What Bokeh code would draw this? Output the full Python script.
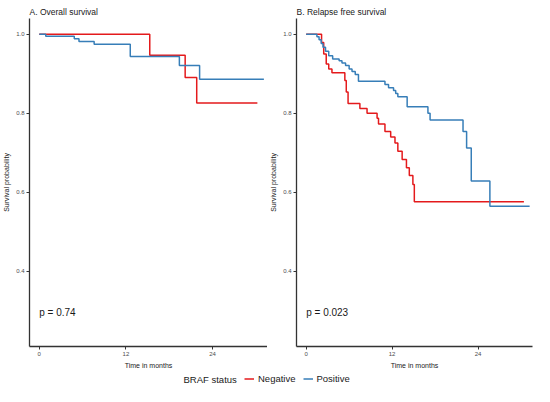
from bokeh.plotting import figure
from bokeh.models import Range1d, FixedTicker, Label, Legend, LegendItem
from bokeh.layouts import column, row
from bokeh.embed import file_html
from bokeh.resources import INLINE

# ---------------- data ----------------
groups = ["Negative", "Positive"]
legend_title = "BRAF status"
colors = ["#E41A1C", "#377EB8"]

x_ticks = [0, 12, 24]
y_ticks = [0.4, 0.6, 0.8, 1.0]
y_tick_labels = ["0.4", "0.6", "0.8", "1.0"]

# A. Overall survival
os_neg_time = [0, 15.3, 20.2, 21.8, 30.2]
os_neg_surv = [1.0, 0.947, 0.891, 0.826, 0.826]
os_pos_time = [0, 0.9, 4.85, 5.5, 7.6, 12.6, 19.4, 22.2, 31.1]
os_pos_surv = [1.0, 0.995, 0.989, 0.9815, 0.975, 0.944, 0.921, 0.886, 0.886]
os_p = "p = 0.74"

# B. Relapse free survival
rfs_neg_time = [0, 2.15, 2.45, 2.8, 3.15, 3.6, 5.4, 5.6, 5.85, 7.5, 8.5, 9.9,
                10.1, 11.0, 11.8, 12.4, 12.8, 13.4, 14.0, 14.4, 14.9, 15.1, 30.4]
rfs_neg_surv = [1.0, 0.979, 0.95, 0.925, 0.9125, 0.9025, 0.883, 0.854, 0.825,
                0.8125, 0.80, 0.7875, 0.773, 0.754, 0.74, 0.725, 0.704, 0.683,
                0.6625, 0.643, 0.62, 0.5765, 0.5765]
rfs_pos_time = [0, 1.5, 1.8, 2.1, 2.35, 2.7, 3.15, 3.7, 4.6, 5.0, 5.5, 6.0, 6.4,
                6.85, 7.3, 11.0, 11.5, 12.2, 12.5, 12.8, 14.1, 17.0, 17.3, 21.9,
                22.4, 23.05, 25.65, 31.2]
rfs_pos_surv = [1.0, 0.994, 0.986, 0.977, 0.967, 0.957, 0.946, 0.9375, 0.933,
                0.9275, 0.921, 0.9125, 0.906, 0.898, 0.881, 0.873, 0.865, 0.858,
                0.85, 0.842, 0.8165, 0.80, 0.783, 0.754, 0.7125, 0.629, 0.565,
                0.565]
rfs_p = "p = 0.023"

FONT = "Liberation Sans"


def make_panel(title, neg_t, neg_s, pos_t, pos_s, ptext, mbl, mbr):
    p = figure(width=267, height=371,
               x_range=Range1d(-1.35, 31.6), y_range=Range1d(0.21, 1.04),
               output_backend="svg", toolbar_location=None,
               min_border_left=mbl, min_border_right=mbr,
               min_border_top=18, min_border_bottom=25)
    p.title.text = title
    p.title.text_font = FONT
    p.title.text_font_size = "8.5px"
    p.title.text_font_style = "normal"
    p.title.text_color = "#1a1a1a"
    p.title.align = "left"
    p.title.standoff = 4
    p.xgrid.visible = False
    p.ygrid.visible = False
    p.outline_line_color = None
    p.background_fill_color = "white"

    p.xaxis.ticker = FixedTicker(ticks=x_ticks)
    p.yaxis.ticker = FixedTicker(ticks=y_ticks)
    p.yaxis.major_label_overrides = dict(zip(y_ticks, y_tick_labels))
    p.xaxis.axis_label = "Time in months"
    p.yaxis.axis_label = "Survival probability"
    for ax in (p.xaxis, p.yaxis):
        ax.axis_line_color = "#333333"
        ax.axis_line_width = 1.3
        ax.major_tick_line_color = "#333333"
        ax.major_tick_out = 3
        ax.major_tick_in = 0
        ax.minor_tick_out = 0
        ax.minor_tick_in = 0
        ax.major_label_text_font = FONT
        ax.major_label_text_font_size = "6px"
        ax.major_label_text_color = "#4d4d4d"
        ax.major_label_standoff = 2
        ax.axis_label_text_font = FONT
        ax.axis_label_text_font_size = "7px"
        ax.axis_label_text_font_style = "normal"
        ax.axis_label_text_color = "#1a1a1a"
        ax.axis_label_standoff = 3

    p.step(neg_t, neg_s, mode="after", line_color=colors[0], line_width=1.5)
    p.step(pos_t, pos_s, mode="after", line_color=colors[1], line_width=1.5)

    p.add_layout(Label(x=0, y=0.295, text=ptext, text_font=FONT,
                       text_font_size="10px", text_baseline="middle",
                       text_color="#1a1a1a"))
    return p


p1 = make_panel("A. Overall survival", os_neg_time, os_neg_surv,
                os_pos_time, os_pos_surv, os_p, 28, 0)
p2 = make_panel("B. Relapse free survival", rfs_neg_time, rfs_neg_surv,
                rfs_pos_time, rfs_pos_surv, rfs_p, 27, 2)

# ---------------- legend strip ----------------
# the strip's ranges lie outside the data, so its renderers only feed the legend
pl = figure(width=534, height=15, output_backend="svg", toolbar_location=None,
            x_range=Range1d(100, 101), y_range=Range1d(100, 101), min_border=0)
pl.axis.visible = False
pl.xgrid.visible = False
pl.ygrid.visible = False
pl.outline_line_color = None
r_neg = pl.step(os_neg_time, os_neg_surv, mode="after",
                line_color=colors[0], line_width=1.5)
r_pos = pl.step(os_pos_time, os_pos_surv, mode="after",
                line_color=colors[1], line_width=1.5)
legend = Legend(items=[LegendItem(label=groups[0], renderers=[r_neg]),
                       LegendItem(label=groups[1], renderers=[r_pos])],
                orientation="horizontal", location=(244, 2),
                label_text_font=FONT, label_text_font_size="9.5px",
                label_text_color="#1a1a1a",
                glyph_width=10, glyph_height=11, label_height=11,
                label_width=10, label_standoff=4, spacing=7, padding=0,
                margin=0, border_line_color=None, background_fill_alpha=0)
pl.add_layout(legend, "center")
pl.add_layout(Label(x=183, y=7.5, x_units="screen", y_units="screen",
                    text=legend_title, text_font=FONT,
                    text_font_size="9.5px", text_baseline="middle",
                    text_color="#1a1a1a"))

layout = column(row(p1, p2), pl)
open("out.html", "w").write(file_html(layout, INLINE))
